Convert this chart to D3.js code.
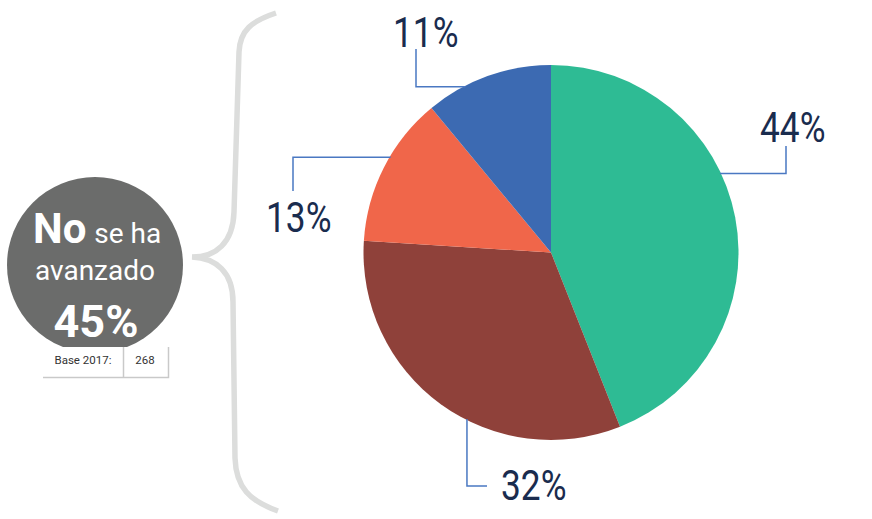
<!DOCTYPE html>
<html>
<head>
<meta charset="utf-8">
<script src="https://cdn.jsdelivr.net/npm/d3@7"></script>
<style>
  html, body { margin: 0; padding: 0; background: #fff; }
  svg { display: block; }
</style>
</head>
<body>
<svg id="chart" width="872" height="519"></svg>
<script>
// ---- data ----
const categories = ["A", "B", "C", "D"];
const values = [44, 32, 13, 11];
const labels = ["44%", "32%", "13%", "11%"];
const colors = ["#2ebb94", "#8f413a", "#f0664a", "#3c6ab2"];
const summaryBold = "No";
const summaryLine1 = "se ha";
const summaryLine2 = "avanzado";
const summaryValue = "45%";
const baseLabel = "Base 2017:";
const baseValue = "268";

// ---- layout (positions only) ----
const cx = 551, cy = 252.5, R = 187.5;
// leader attach position as a fraction of each slice's angular span, elbow & label positions
const leaderLayout = [
  { frac: 0.41, dir: "h", elbow: 786, end: 146, lx: 760, ly: 142 },
  { frac: 0.42, dir: "v", elbow: 486, end: 487, lx: 501, ly: 500 },
  { frac: 0.58, dir: "h", elbow: 293, end: 191, lx: 266, ly: 232 },
  { frac: 0.31, dir: "h", elbow: 416, end: 49,  lx: 393, ly: 47 }
];

const svg = d3.select("#chart");

// ---- brace ----
svg.append("path")
  .attr("d", "M276,13 C252,21 240,30 239,52 L234,212 C233,243 216,257 192,257 C216,258 233,272 233,302 L235,458 C236,488 250,501 278,511")
  .attr("fill", "none")
  .attr("stroke", "#dcdddc")
  .attr("stroke-width", 5.5)
  .attr("stroke-linecap", "butt");

// ---- summary circle ----
const sc = svg.append("g");
sc.append("circle").attr("cx", 95).attr("cy", 265).attr("r", 88).attr("fill", "#6b6c6b");
const t1 = sc.append("text")
  .attr("y", 243)
  .attr("font-family", "Roboto, sans-serif")
  .attr("fill", "#fff");
t1.append("tspan").attr("x", 33).attr("font-weight", 700).attr("font-size", 42).text(summaryBold);
t1.append("tspan").attr("dx", 8).attr("font-size", 28).text(summaryLine1);
sc.append("text")
  .attr("x", 95).attr("y", 280)
  .attr("text-anchor", "middle")
  .attr("font-family", "Roboto, sans-serif")
  .attr("font-size", 28)
  .attr("fill", "#fff")
  .text(summaryLine2);
sc.append("text")
  .attr("x", 96).attr("y", 337)
  .attr("text-anchor", "middle")
  .attr("font-family", "Roboto, sans-serif")
  .attr("font-weight", 700)
  .attr("font-size", 45)
  .attr("fill", "#fff")
  .text(summaryValue);

// base box
const bb = svg.append("g");
bb.append("rect").attr("x", 43).attr("y", 347).attr("width", 125).attr("height", 30).attr("fill", "#fff");
bb.append("path").attr("d", "M43,377.5 H168.5 V347").attr("fill", "none").attr("stroke", "#c9c9c9").attr("stroke-width", 1.5);
bb.append("path").attr("d", "M123.5,347 V377").attr("fill", "none").attr("stroke", "#c9c9c9").attr("stroke-width", 1.5);
bb.append("text").attr("x", 83).attr("y", 364).attr("text-anchor", "middle")
  .attr("font-family", "Roboto, sans-serif").attr("font-size", 11.5).attr("fill", "#333").text(baseLabel);
bb.append("text").attr("x", 145).attr("y", 364).attr("text-anchor", "middle")
  .attr("font-family", "Roboto, sans-serif").attr("font-size", 11.5).attr("fill", "#333").text(baseValue);

// ---- pie ----
const pie = d3.pie().sort(null).value(d => d)(values);
const arc = d3.arc().innerRadius(0).outerRadius(R);
const pg = svg.append("g").attr("transform", `translate(${cx},${cy})`);
pg.selectAll("path").data(pie).join("path")
  .attr("d", arc)
  .attr("fill", (d, i) => colors[i]);

// ---- leaders & labels ----
pie.forEach((d, i) => {
  const L = leaderLayout[i];
  const a = d.startAngle + (d.endAngle - d.startAngle) * L.frac;
  const [px, py] = d3.pointRadial(a, R - 1);
  const x0 = cx + px, y0 = cy + py;
  let path;
  if (L.dir === "h") path = `M${x0},${y0} H${L.elbow} V${L.end}`;
  else path = `M${x0},${y0} V${L.elbow} H${L.end}`;
  svg.append("path").attr("d", path).attr("fill", "none")
    .attr("stroke", "#4a78c2").attr("stroke-width", 1.5);
  svg.append("g").attr("transform", `translate(${L.lx},${L.ly}) scale(0.84,1)`)
    .append("text")
    .attr("font-family", "Roboto, sans-serif")
    .attr("font-size", 42)
    .attr("fill", "#1a2c4e")
    .text(labels[i]);
});
</script>
</body>
</html>
